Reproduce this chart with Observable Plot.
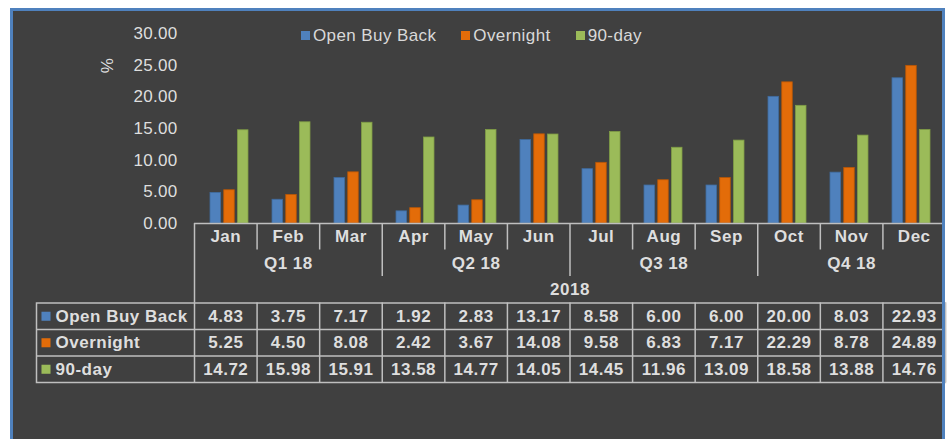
<!DOCTYPE html>
<html>
<head>
<meta charset="utf-8">
<script src="https://cdn.jsdelivr.net/npm/d3@7"></script>
<script src="https://cdn.jsdelivr.net/npm/@observablehq/plot@0.6"></script>
<style>
  html, body { margin: 0; padding: 0; background: #ffffff; width: 950px; height: 439px; overflow: hidden;
    font-family: "Liberation Sans", Arial, sans-serif; }
  #panel { position: absolute; left: 10px; top: 8px; width: 935px; height: 440px; box-sizing: border-box; background: #404040; z-index: 0; }
  #border { position: absolute; left: 10px; top: 8px; width: 935px; height: 440px; box-sizing: border-box;
    border: 3px solid #4f81bd; border-bottom: none; z-index: 5; pointer-events: none; }
  #chart { position: absolute; left: 0; top: 0; z-index: 2; }
  #table { position: absolute; left: 0; top: 223px; z-index: 2; }
  #legend { position: absolute; left: 301px; top: 26px; z-index: 3; display: flex; align-items: center;
    color: #d9d9d9; font-size: 17px; line-height: 19px; letter-spacing: 0.4px; white-space: nowrap; }
  #legend .item { display: flex; align-items: center; margin-right: 25px; }
  #legend .sw { width: 9px; height: 9px; margin-right: 3px; display: inline-block; }
</style>
</head>
<body>
<div id="panel"></div>
<div id="chart"></div>
<div id="table"></div>
<div id="legend"></div>
<div id="border"></div>
<script>
// ---- data ----
const months = ["Jan", "Feb", "Mar", "Apr", "May", "Jun", "Jul", "Aug", "Sep", "Oct", "Nov", "Dec"];
const quarters = ["Q1 18", "Q2 18", "Q3 18", "Q4 18"];
const yearLabel = "2018";
const series = ["Open Buy Back", "Overnight", "90-day"];
const openBuyBack = [4.83, 3.75, 7.17, 1.92, 2.83, 13.17, 8.58, 6.00, 6.00, 20.00, 8.03, 22.93];
const overnight = [5.25, 4.50, 8.08, 2.42, 3.67, 14.08, 9.58, 6.83, 7.17, 22.29, 8.78, 24.89];
const ninetyDay = [14.72, 15.98, 15.91, 13.58, 14.77, 14.05, 14.45, 11.96, 13.09, 18.58, 13.88, 14.76];
const yTicks = [0, 5, 10, 15, 20, 25, 30];
const yLabel = "%";
const yLabelAt = 25; // the "%" sits level with the 25.00 tick

// ---- styles ----
const colors = ["#4f81bd", "#e36c09", "#9bbb59"];
const strokes = ["#3f6b9e", "#b85606", "#7f9c45"];
const textColor = "#dedede";
const lineColor = "#bfbfbf";
const font = "Liberation Sans, Arial, sans-serif";

const values = [openBuyBack, overnight, ninetyDay];
const data = series.flatMap((s, si) => months.map((m, mi) => ({series: s, si, month: m, mi, value: values[si][mi]})));

// bar placement within each month band (style insets)
const barInsets = [[12, 39.5], [25.75, 25.75], [39.5, 12]];

const chart = Plot.plot({
  width: 950, height: 224,
  marginTop: 33, marginBottom: 1, marginLeft: 194, marginRight: 5,
  style: {background: "transparent", color: textColor, fontFamily: font, fontSize: "17px", letterSpacing: "0.3px", overflow: "visible"},
  x: {domain: months, padding: 0, axis: null},
  y: {domain: [0, 30], ticks: yTicks, tickFormat: d3.format(".2f"), tickSize: 0, tickPadding: 17, label: null},
  color: {domain: series, range: colors},
  marks: [
    ...series.map((s, si) => Plot.barY(data.filter(d => d.si === si), {
      x: "month", y: "value", fill: "series", stroke: strokes[si], strokeWidth: 0.8,
      insetLeft: barInsets[si][0], insetRight: barInsets[si][1]
    })),
    Plot.ruleY([0], {stroke: lineColor, strokeWidth: 1.5}),
    Plot.text([yLabel], {frameAnchor: "left", y: () => yLabelAt, dx: -87, dy: 8, rotate: -90, fill: textColor, fontSize: 17})
  ]
});
document.getElementById("chart").appendChild(chart);

// ---- table below the chart ----
const headerRows = 3; // month, quarter, year
const boundaries = d3.range(months.length).map(i => ({x: i, y2: i === 0 ? headerRows : (i % 3 === 0 ? 2 : 1)}));

const table = Plot.plot({
  width: 950, height: 216,
  marginTop: 79.5, marginBottom: 57, marginLeft: 36, marginRight: 5,
  style: {background: "transparent", color: textColor, fontFamily: font, fontSize: "17px", letterSpacing: "0.5px", overflow: "visible"},
  x: {domain: [0, months.length], range: [194, 945], axis: null},
  y: {domain: [0, headerRows + series.length], range: [0, 159], axis: null},
  color: {domain: series, range: colors},
  marks: [
    Plot.frame({stroke: lineColor, strokeWidth: 1.5}),
    Plot.ruleY(series.slice(1).map((s, i) => headerRows + i + 1), {stroke: lineColor, strokeWidth: 1.5}),
    Plot.ruleX(d3.range(months.length + 1), {x: d => d, y1: headerRows, y2: headerRows + series.length, stroke: lineColor, strokeWidth: 1.5}),
    Plot.ruleX(boundaries, {x: "x", y1: () => 0, y2: "y2", stroke: lineColor, strokeWidth: 1.5}),
    Plot.text(months, {x: (d, i) => i + 0.5, y: () => 0.5, text: d => d, fill: textColor, fontWeight: "bold", fontSize: 17}),
    Plot.text(quarters, {x: (d, i) => i * 3 + 1.5, y: () => 1.5, text: d => d, fill: textColor, fontWeight: "bold", fontSize: 17}),
    Plot.text([yearLabel], {x: () => months.length / 2, y: () => 2.5, text: d => d, fill: textColor, fontWeight: "bold", fontSize: 17}),
    Plot.text(data, {x: d => d.mi + 0.5, y: d => headerRows + d.si + 0.5, text: d => d.value.toFixed(2), fill: textColor, fontWeight: "bold", fontSize: 17}),
    Plot.text(series, {frameAnchor: "left", y: (d, i) => headerRows + i + 0.5, text: d => d, dx: 19, textAnchor: "start", fill: textColor, fontWeight: "bold", fontSize: 17}),
    Plot.dot(series, {frameAnchor: "left", y: (d, i) => headerRows + i + 0.5, dx: 9.5, symbol: "square", r: 5.1, fill: d => d})
  ]
});
document.getElementById("table").appendChild(table);

// ---- legend ----
const legend = d3.select("#legend");
series.forEach((s, i) => {
  const item = legend.append("div").attr("class", "item");
  item.append("span").attr("class", "sw").style("background", colors[i]);
  item.append("span").text(s);
});
</script>
</body>
</html>
